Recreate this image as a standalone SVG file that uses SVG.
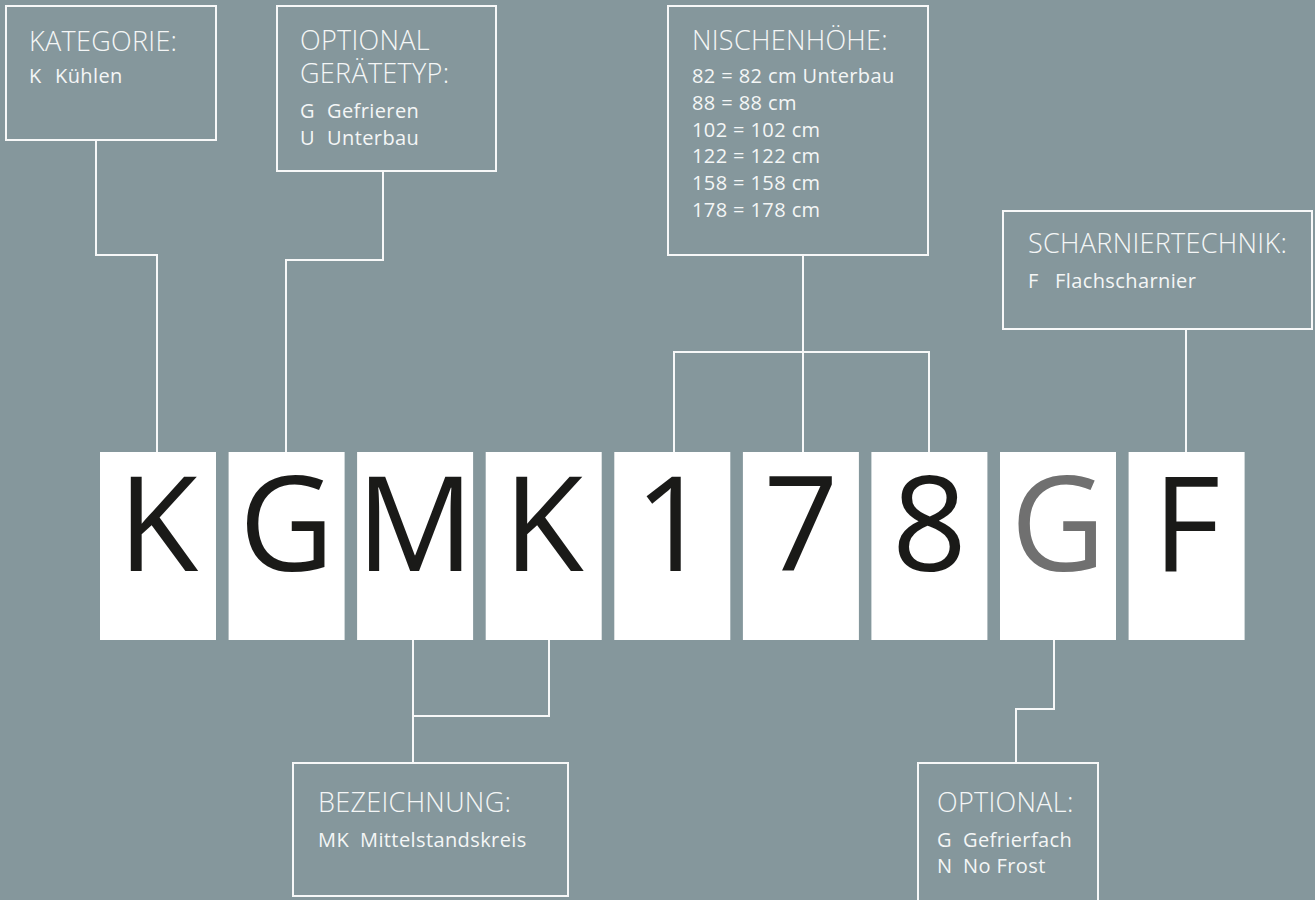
<svg xmlns="http://www.w3.org/2000/svg" width="1315" height="900" viewBox="0 0 1315 900">
<style>
.bg{fill:#85979c}
.box{fill:none;stroke:#f7f8f8;stroke-width:2}
.conn{fill:none;stroke:#f7f8f8;stroke-width:2}
.tile{fill:#ffffff}
.t{font-family:"Open Sans","Liberation Sans",sans-serif;font-size:27px;font-weight:300;letter-spacing:0.3px;fill:#f4f6f6}
.b{font-family:"Open Sans","Liberation Sans",sans-serif;font-size:20px;letter-spacing:0.4px;fill:#f4f6f6}
.big{font-family:"Open Sans","Liberation Sans",sans-serif;font-size:131px;fill:#1a1a18;text-anchor:middle}
.gray{fill:#707070}
</style>
<rect class="bg" x="0" y="0" width="1315" height="900"/>

<g id="connectors">
<path class="conn" d="M96,140 V255 H157 V452"/>
<path class="conn" d="M383,171 V260 H286 V452"/>
<path class="conn" d="M803,255 V452 M674,452 V352 H929 V452"/>
<path class="conn" d="M1186,329 V452"/>
<path class="conn" d="M413,640 V763 M549,640 V716 H413"/>
<path class="conn" d="M1054,640 V709 H1016 V763"/>
</g>

<g id="node-kategorie">
<rect class="box" x="6" y="6" width="210" height="134"/>
<text class="t" x="29" y="51">KATEGORIE:</text>
<text class="b" y="83"><tspan x="29">K</tspan><tspan x="55">Kühlen</tspan></text>
</g>

<g id="node-geraetetyp">
<rect class="box" x="277" y="6" width="219" height="165"/>
<text class="t" x="300" y="50">OPTIONAL</text>
<text class="t" x="300" y="83">GERÄTETYP:</text>
<text class="b" y="118"><tspan x="300">G</tspan><tspan x="327">Gefrieren</tspan></text>
<text class="b" y="145"><tspan x="300">U</tspan><tspan x="327">Unterbau</tspan></text>
</g>

<g id="node-nischenhoehe">
<rect class="box" x="668" y="6" width="260" height="249"/>
<text class="t" x="692" y="50">NISCHENHÖHE:</text>
<text class="b" x="692" y="83">82 = 82 cm Unterbau</text>
<text class="b" x="692" y="110">88 = 88 cm</text>
<text class="b" x="692" y="137">102 = 102 cm</text>
<text class="b" x="692" y="163">122 = 122 cm</text>
<text class="b" x="692" y="190">158 = 158 cm</text>
<text class="b" x="692" y="217">178 = 178 cm</text>
</g>

<g id="node-scharniertechnik">
<rect class="box" x="1003" y="211" width="309" height="118"/>
<text class="t" x="1028" y="253">SCHARNIERTECHNIK:</text>
<text class="b" y="288"><tspan x="1028">F</tspan><tspan x="1055">Flachscharnier</tspan></text>
</g>

<g id="node-bezeichnung">
<rect class="box" x="293" y="763" width="275" height="133"/>
<text class="t" x="318" y="812">BEZEICHNUNG:</text>
<text class="b" y="847"><tspan x="318">MK</tspan><tspan x="360">Mittelstandskreis</tspan></text>
</g>

<g id="node-optional">
<rect class="box" x="918" y="763" width="180" height="150"/>
<text class="t" x="937" y="812">OPTIONAL:</text>
<text class="b" y="847"><tspan x="937">G</tspan><tspan x="963">Gefrierfach</tspan></text>
<text class="b" y="873"><tspan x="937">N</tspan><tspan x="963">No Frost</tspan></text>
</g>

<g id="code-tiles">
<g id="tile-1"><rect class="tile" x="100" y="452" width="116" height="188"/><text class="big" x="158" y="571">K</text></g>
<g id="tile-2"><rect class="tile" x="228.6" y="452" width="116" height="188"/><text class="big" x="286.6" y="571">G</text></g>
<g id="tile-3"><rect class="tile" x="357.1" y="452" width="116" height="188"/><text class="big" x="415.1" y="571">M</text></g>
<g id="tile-4"><rect class="tile" x="485.7" y="452" width="116" height="188"/><text class="big" x="543.7" y="571">K</text></g>
<g id="tile-5"><rect class="tile" x="614.3" y="452" width="116" height="188"/><text class="big" x="672.3" y="571">1</text></g>
<g id="tile-6"><rect class="tile" x="742.9" y="452" width="116" height="188"/><text class="big" x="800.9" y="571">7</text></g>
<g id="tile-7"><rect class="tile" x="871.4" y="452" width="116" height="188"/><text class="big" x="929.4" y="571">8</text></g>
<g id="tile-8"><rect class="tile" x="1000" y="452" width="116" height="188"/><text class="big gray" x="1058" y="571">G</text></g>
<g id="tile-9"><rect class="tile" x="1128.6" y="452" width="116" height="188"/><text class="big" x="1186.6" y="571">F</text></g>
</g>
</svg>
